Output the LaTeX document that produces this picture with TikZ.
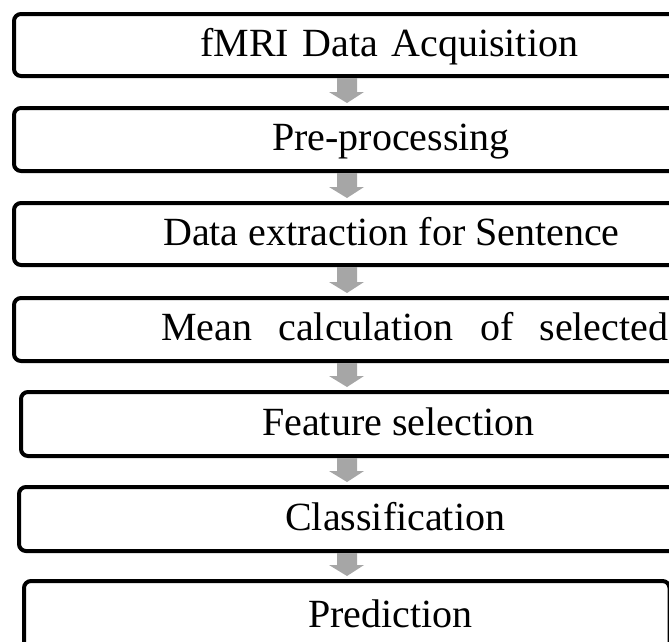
\documentclass[tikz,border=0pt]{standalone}
\usepackage{fontspec}
\setmainfont{Liberation Serif}
\usetikzlibrary{calc}
\definecolor{arrowgray}{RGB}{166,166,166}
\tikzset{
  flowbox/.style={draw=black, line width=4pt, rounded corners=7pt, inner sep=0pt, outer sep=0pt, anchor=north west},
  steplabel/.style={font=\fontsize{40}{48}\selectfont, anchor=base west, inner sep=0pt},
  garrow/.style={fill=arrowgray, draw=none},
}
\newcommand{\flowarrow}[2]{%
  \path[garrow] let \p1=(#1.south), \p2=(#2.north) in
    (337pt,\y1-2pt) -- (357pt,\y1-2pt) -- (357pt,\y2+16pt) -- (364pt,\y2+16pt)
    -- (347pt,\y2+5pt) -- (329pt,\y2+16pt) -- (337pt,\y2+16pt) -- cycle;}
\begin{document}
\begin{tikzpicture}[x=1pt,y=-1pt]
  \clip (0,0) rectangle (669,641);
  \node[flowbox, minimum width=720pt, minimum height=62pt] (b1) at (14,14) {};
  \node[flowbox, minimum width=720pt, minimum height=63pt] (b2) at (14,108) {};
  \node[flowbox, minimum width=720pt, minimum height=62pt] (b3) at (14,203) {};
  \node[flowbox, minimum width=720pt, minimum height=63pt] (b4) at (14,298) {};
  \node[flowbox, minimum width=720pt, minimum height=64pt] (b5) at (21,392) {};
  \node[flowbox, minimum width=720pt, minimum height=64pt] (b6) at (19,487) {};
  \node[flowbox, minimum width=645.5pt, minimum height=120pt] (b7) at (24,581) {};

  \node[steplabel] (t1) at (200,56) {\makebox[378pt][s]{fMRI Data Acquisition}};
  \node[steplabel] (t2) at (272,150.5) {Pre-processing};
  \node[steplabel] (t3) at (163,245) {Data extraction for Sentence};
  \node[steplabel] (t4) at (161,340) {\makebox[507pt][s]{Mean calculation of selected}};
  \node[steplabel] (t5) at (262,435) {Feature selection};
  \node[steplabel] (t6) at (285,530) {Classification};
  \node[steplabel] (t7) at (308,627) {Prediction};

  \flowarrow{b1}{b2}
  \flowarrow{b2}{b3}
  \flowarrow{b3}{b4}
  \flowarrow{b4}{b5}
  \flowarrow{b5}{b6}
  \flowarrow{b6}{b7}
\end{tikzpicture}
\end{document}
